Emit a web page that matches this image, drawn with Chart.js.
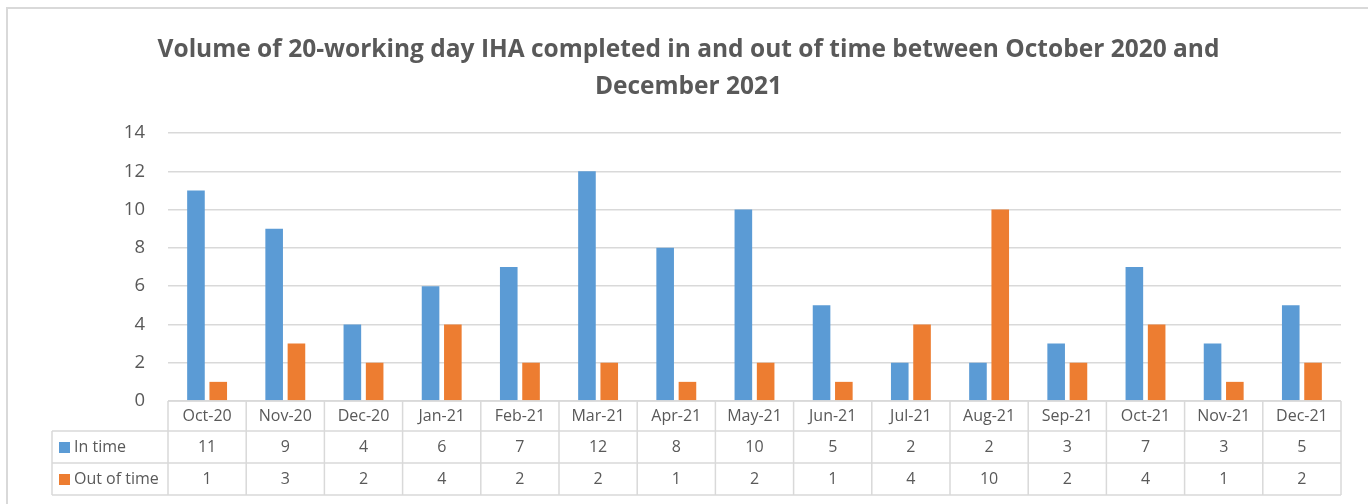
<!DOCTYPE html>
<html>
<head>
<meta charset="utf-8">
<script src="https://cdn.jsdelivr.net/npm/chart.js@4"></script>
<style>
    html, body { margin: 0; padding: 0; background: #fff; }
    #wrap { width: 1368px; height: 504px; }
</style>
</head>
<body>
<div id="wrap"><canvas id="iha-chart" width="1368" height="504"></canvas></div>
<script>
const months = ['Oct-20', 'Nov-20', 'Dec-20', 'Jan-21', 'Feb-21', 'Mar-21', 'Apr-21', 'May-21',
    'Jun-21', 'Jul-21', 'Aug-21', 'Sep-21', 'Oct-21', 'Nov-21', 'Dec-21'];
const inTime = [11, 9, 4, 6, 7, 12, 8, 10, 5, 2, 2, 3, 7, 3, 5];
const outOfTime = [1, 3, 2, 4, 2, 2, 1, 2, 1, 4, 10, 2, 4, 1, 2];
const yTicks = [0, 2, 4, 6, 8, 10, 12, 14];

const FONT = "'Open Sans', sans-serif";
const GREY = '#595959';
const LINE = '#d9d9d9';

// draws the outer frame and the data table under the plot
const dataTable = {
    id: 'dataTable',
    afterDraw(chart) {
        const ctx = chart.ctx;
        const x = chart.scales.x;
        const area = chart.chartArea;
        const catW = (area.right - area.left) / months.length;
        const top = area.bottom;
        const rows = [top, top + 30, top + 62, top + 94];
        const legendLeft = 52;

        ctx.save();
        ctx.strokeStyle = LINE;
        ctx.lineWidth = 2;
        ctx.strokeRect(7, 8, 1400, 600);

        ctx.lineWidth = 1.5;
        ctx.beginPath();
        ctx.moveTo(area.left, rows[0]);
        ctx.lineTo(area.right, rows[0]);
        for (let r = 1; r < rows.length; r++) {
            ctx.moveTo(legendLeft, rows[r]);
            ctx.lineTo(area.right, rows[r]);
        }
        ctx.moveTo(legendLeft, rows[1]);
        ctx.lineTo(legendLeft, rows[3]);
        for (let i = 0; i <= months.length; i++) {
            const px = area.left + i * catW;
            ctx.moveTo(px, rows[0]);
            ctx.lineTo(px, rows[3]);
        }
        ctx.stroke();

        ctx.fillStyle = GREY;
        ctx.font = '16px ' + FONT;
        ctx.textAlign = 'center';
        ctx.textBaseline = 'middle';
        months.forEach((m, i) => {
            const cx = x.getPixelForValue(i);
            ctx.fillText(m, cx, (rows[0] + rows[1]) / 2);
            ctx.fillText(String(inTime[i]), cx, (rows[1] + rows[2]) / 2);
            ctx.fillText(String(outOfTime[i]), cx, (rows[2] + rows[3]) / 2);
        });

        chart.data.datasets.forEach((ds, d) => {
            const cy = (rows[d + 1] + rows[d + 2]) / 2;
            ctx.fillStyle = ds.backgroundColor;
            ctx.fillRect(59, cy - 5, 11, 11);
            ctx.fillStyle = GREY;
            ctx.textAlign = 'left';
            ctx.fillText(ds.label, 74, cy);
        });
        ctx.restore();
    }
};

const ctx = document.getElementById('iha-chart').getContext('2d');
new Chart(ctx, {
    type: 'bar',
    data: {
        labels: months,
        datasets: [
            {
                label: 'In time',
                data: inTime,
                backgroundColor: '#5b9bd5',
                categoryPercentage: 0.57,
                barPercentage: 0.79
            },
            {
                label: 'Out of time',
                data: outOfTime,
                backgroundColor: '#ed7d31',
                categoryPercentage: 0.57,
                barPercentage: 0.79
            }
        ]
    },
    options: {
        responsive: false,
        animation: false,
        layout: {
            padding: { left: 36, right: 27, top: 0, bottom: 103 }
        },
        plugins: {
            legend: { display: false },
            tooltip: { enabled: false },
            title: {
                display: true,
                text: ['Volume of 20-working day IHA completed in and out of time between October 2020 and',
                    'December 2021'],
                color: GREY,
                font: { family: FONT, size: 24.5, weight: 'bold', lineHeight: 1.51 },
                padding: { top: 32, bottom: 27 }
            }
        },
        scales: {
            x: {
                display: false
            },
            y: {
                min: 0,
                max: 14,
                afterBuildTicks: (scale) => {
                    scale.ticks = yTicks.map(v => ({ value: v }));
                },
                afterFit: (scale) => {
                    scale.width = 132;
                },
                border: { display: false },
                grid: {
                    color: LINE,
                    lineWidth: 1.5,
                    drawTicks: false
                },
                ticks: {
                    color: GREY,
                    padding: 23,
                    font: { family: FONT, size: 18.5 }
                }
            }
        }
    },
    plugins: [dataTable]
});
</script>
</body>
</html>
